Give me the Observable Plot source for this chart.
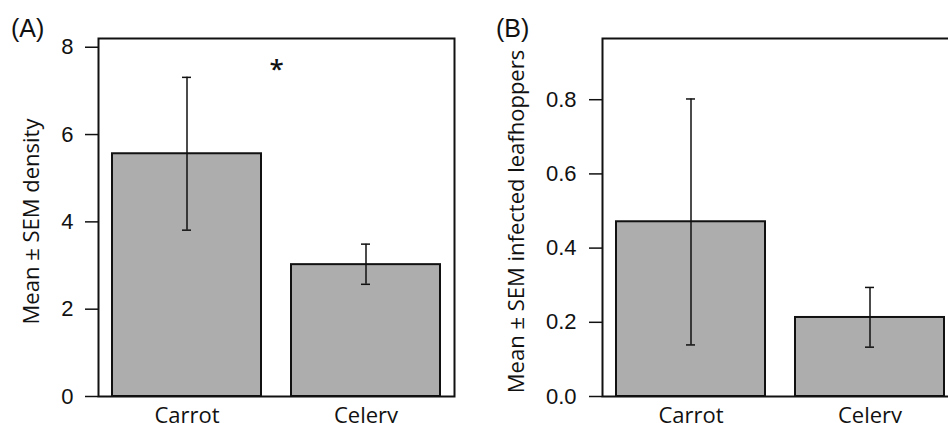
<!DOCTYPE html>
<html>
<head>
<meta charset="utf-8">
<script src="https://cdn.jsdelivr.net/npm/d3@7"></script>
<script src="https://cdn.jsdelivr.net/npm/@observablehq/plot@0.6"></script>
<style>
  html, body { margin: 0; padding: 0; background: #fff; }
  body { width: 948px; height: 423px; overflow: hidden; position: relative; }
  .panel { position: absolute; top: 0; width: 480px; height: 423px; }
  .tag { position: absolute; top: 16px; font-family: "Liberation Sans", Arial, sans-serif; font-size: 25px; line-height: 1; color: #111; }
</style>
</head>
<body>
<div class="tag" style="left:11px">(A)</div>
<div class="tag" style="left:496px">(B)</div>
<div class="panel" id="pa" style="left:0"></div>
<div class="panel" id="pb" style="left:480px"></div>
<script>
// ---- data ----
const categories = ["Carrot", "Celery"];
const densityMean = [5.56, 3.02];
const densityLow = [3.81, 2.57];
const densityHigh = [7.31, 3.49];
const infectedMean = [0.471, 0.213];
const infectedLow = [0.139, 0.133];
const infectedHigh = [0.802, 0.294];
const ticksA = [0, 2, 4, 6, 8];
const ticksB = [0, 0.2, 0.4, 0.6, 0.8];
const titleA = "Mean ± SEM density";
const titleB = "Mean ± SEM infected leafhoppers";
const sigMarkA = [{label: "*", y: 7.48}];

function rows(mean, lo, hi) {
  return categories.map((c, i) => ({cat: c, mean: mean[i], lo: lo[i], hi: hi[i]}));
}

function panel({data, yMax, ticks, tickFormat, title, marginLeft, marginRight, titleDx, tickPadding, extra = []}) {
  return Plot.plot({
    width: 480,
    height: 423,
    marginLeft, marginRight,
    marginTop: 38,
    marginBottom: 27,
    style: {background: "transparent", maxWidth: "none", fontFamily: "'Liberation Sans', Arial, sans-serif", color: "#111", overflow: "visible"},
    x: {domain: categories, paddingInner: 0.1667, paddingOuter: 0.0733, axis: null},
    y: {domain: [0, yMax], axis: null},
    marks: [
      Plot.barY(data, {x: "cat", y: "mean", fill: "#adadad", stroke: "#111", strokeWidth: 2}),
      Plot.frame({stroke: "#111", strokeWidth: 2}),
      Plot.axisY({ticks, tickFormat, tickSize: 13, tickPadding, fontSize: 22, fontFamily: "'Liberation Sans', Arial, sans-serif", strokeWidth: 1.5, label: null}),
      Plot.axisX({tickSize: 0, tickPadding: 11, fontSize: 22, fontFamily: "'Open Sans', sans-serif", label: null}),
      Plot.ruleX(data, {x: "cat", y1: "lo", y2: "hi", stroke: "#111", strokeWidth: 1.5}),
      Plot.tickY(data, {x: "cat", y: "lo", insetLeft: 70, insetRight: 70, stroke: "#111", strokeWidth: 1.5}),
      Plot.tickY(data, {x: "cat", y: "hi", insetLeft: 70, insetRight: 70, stroke: "#111", strokeWidth: 1.5}),
      Plot.text([title], {text: d => d, frameAnchor: "left", textAnchor: "middle", lineAnchor: "middle", rotate: -90, dx: titleDx, dy: 4, fontSize: 22, fontFamily: "'Open Sans', sans-serif", fill: "#111"}),
      ...extra
    ]
  });
}

document.getElementById("pa").append(panel({
  data: rows(densityMean, densityLow, densityHigh),
  yMax: 8.2, ticks: ticksA, tickFormat: d3.format("d"),
  title: titleA, marginLeft: 98, marginRight: 26, titleDx: -67, tickPadding: 12,
  extra: [Plot.text(sigMarkA, {y: "y", text: "label", fontSize: 26, fontWeight: 600, fontFamily: "'Open Sans', sans-serif", fill: "#111"})]
}));

document.getElementById("pb").append(panel({
  data: rows(infectedMean, infectedLow, infectedHigh),
  yMax: 0.965, ticks: ticksB, tickFormat: d3.format(".1f"),
  title: titleB, marginLeft: 122, marginRight: 2, titleDx: -86, tickPadding: 13
}));
</script>
</body>
</html>
